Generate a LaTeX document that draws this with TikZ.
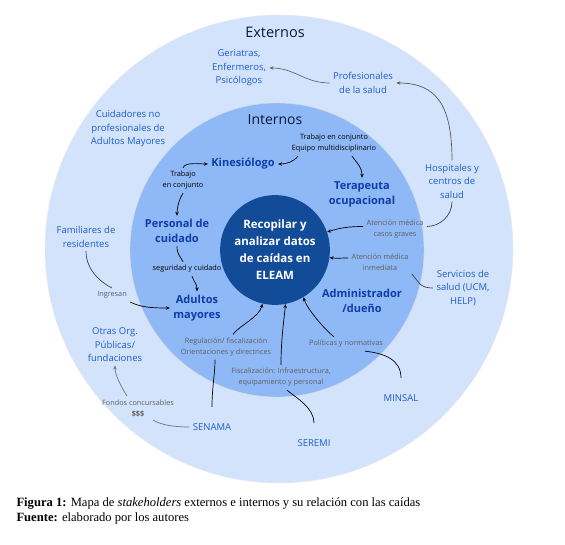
\documentclass[tikz,border=0pt]{standalone}
\usepackage{fontspec}
\setmainfont{Open Sans}
\newfontfamily\capfont{Liberation Serif}
\usepackage{tikz}
\usetikzlibrary{arrows.meta}

\definecolor{fondoext}{RGB}{211,227,252}
\definecolor{fondoint}{RGB}{143,184,246}
\definecolor{centro}{RGB}{18,76,153}
\definecolor{azulext}{RGB}{28,94,205}
\definecolor{azulint}{RGB}{14,60,168}
\definecolor{gristxt}{RGB}{95,95,95}
\definecolor{titulo}{RGB}{10,25,60}

\begin{document}
\begin{tikzpicture}[x=1pt, y=-1pt,
        externo/.style={align=center, text=azulext, font=\fontsize{9.5}{13.5}\selectfont},
        interno/.style={align=center, text=azulint, font=\bfseries\fontsize{11}{15}\selectfont},
        nota/.style={align=center, font=\fontsize{7.3}{11}\selectfont},
        notagris/.style={nota, text=gristxt},
        flecha/.style={-{Stealth[length=4pt, width=3.5pt]}, line width=0.7pt},
        linea/.style={line width=0.7pt, draw=black!75}]
        \useasboundingbox (0,0) rectangle (565,545);
        \fill[white] (0,0) rectangle (565,545);
        % anillos
        \node[circle, fill=fondoext, draw=black!8, minimum size=468pt] (externos) at (279,249) {};
        \node[circle, fill=fondoint, draw=black!15, minimum size=294pt] (internos) at (277,250) {};
        \node[circle, fill=centro, text=white, minimum size=94pt, align=center, font=\bfseries\fontsize{11.5}{17}\selectfont] (eleam) at (275,250) {Recopilar y\\analizar datos\\de caídas en\\ELEAM};
        \node[text=titulo, font=\fontsize{14.5}{16}\selectfont] (tit_ext) at (275,32) {Externos};
        \node[text=titulo, font=\fontsize{14}{16}\selectfont] (tit_int) at (275,120) {Internos};
        % externos
        \node[externo] (geriatras) at (239,68) {Geriatras,\\Enfermeros,\\Psicólogos};
        \node[externo] (profesionales) at (363,83) {Profesionales\\de la salud};
        \node[externo] (cuidadores) at (128,129) {Cuidadores no\\profesionales de\\Adultos Mayores};
        \node[externo] (hospitales) at (452,181) {Hospitales y\\centros de\\salud};
        \node[externo] (familiares) at (86,237) {Familiares de\\residentes};
        \node[externo] (servicios) at (463,288) {Servicios de\\salud (UCM,\\HELP)};
        \node[externo] (otras) at (115,345) {Otras Org.\\Públicas/\\fundaciones};
        \node[externo] (senama) at (212,427) {SENAMA};
        \node[externo] (seremi) at (314,443) {SEREMI};
        \node[externo] (minsal) at (401,398) {MINSAL};
        % internos
        \node[interno] (kine) at (243,164) {Kinesiólogo};
        \node[interno] (terapeuta) at (362,194) {Terapeuta\\ocupacional};
        \node[interno] (personal) at (177,231) {Personal de\\cuidado};
        \node[interno] (adultos) at (197,308) {Adultos\\mayores};
        \node[interno] (admin) at (362,301) {Administrador\\/dueño};
        % relaciones
        \node[nota] (equipo) at (334,143.5) {Trabajo en conjunto\\Equipo multidisciplinario};
        \node[nota] (trabajo) at (183,180.5) {Trabajo\\en conjunto};
        \node[nota] (seguridad) at (187,269) {seguridad y cuidado};
        \node[notagris] (ingresan) at (112,295) {Ingresan};
        \node[notagris] (graves) at (395,229.5) {Atención médica\\casos graves};
        \node[notagris] (inmediata) at (380,262) {Atención médica\\inmediata};
        \node[notagris] (regulacion) at (226,347) {Regulación/ fiscalización\\Orientaciones y directrices};
        \node[notagris] (politicas) at (346,344) {Políticas y normativas};
        \node[notagris] (fiscalizacion) at (281,377.5) {Fiscalización: Infraestructura,\\equipamiento y personal};
        \node[notagris] (fondos) at (138,408) {Fondos concursables\\\textbf{\$\$\$}};
        % conectores externos
        \draw[flecha, draw=black!60] (profesionales.west) .. controls +(-25,0) and +(25,0) .. (geriatras.east);
        \draw[flecha, draw=black!65] (hospitales.north) .. controls +(0,-55) and +(40,0) .. (profesionales.east);
        \draw[linea] (hospitales.south) .. controls +(0,15) and +(12,0) .. ([yshift=3pt]graves.east);
        \draw[flecha] ([yshift=3pt]graves.west) .. controls +(-15,0) and +(12,-4) .. (eleam.19);
        \draw[linea] (inmediata.south east) .. controls +(8,10) and +(-12,0) .. (servicios.west);
        \draw[flecha] ([yshift=4pt]inmediata.west) .. controls +(-10,0) and +(10,1) .. (eleam.-8);
        \draw[linea] (familiares.south) .. controls +(0,20) and +(-10,-5) .. (ingresan.north);
        \draw[flecha] (ingresan.south east) .. controls +(10,5) and +(-20,0) .. (adultos.west);
        % conectores internos
        \draw[flecha] (trabajo.north) .. controls +(2,-6) and +(-8,0) .. (kine.west);
        \draw[flecha] (trabajo.south) .. controls +(-4,6) and +(0,-8) .. (personal.north);
        \draw[flecha] ([xshift=-36pt]equipo.south) .. controls +(-5,6) and +(8,0) .. (kine.east);
        \draw[flecha] ([xshift=18pt]equipo.south) .. controls +(6,8) and +(0,-10) .. (terapeuta.north);
        \draw[line width=0.7pt] (personal.south) .. controls +(0,8) and +(-3,-6) .. ([xshift=-4pt]seguridad.north);
        \draw[flecha] ([xshift=5pt]seguridad.south) .. controls +(2,6) and +(0,-8) .. (adultos.north);
        % reguladores
        \draw[line width=0.7pt] ([yshift=13pt]senama.north) .. controls +(0,-20) and +(0,15) .. ([xshift=-11pt]regulacion.south);
        \draw[flecha] ([xshift=7pt]regulacion.north) .. controls +(8,-10) and +(-4,14) .. (eleam.-103);
        \draw[line width=0.7pt] ([yshift=13pt]seremi.north) .. controls +(0,-15) and +(10,8) .. ([xshift=6pt]fiscalizacion.south);
        \draw[flecha] (fiscalizacion.north) .. controls +(0,-25) and +(-2,20) .. (eleam.-79);
        \draw[line width=0.7pt] ([yshift=13pt]minsal.north) .. controls +(0,-18) and +(20,2) .. ([xshift=19pt]politicas.south);
        \draw[flecha] ([xshift=-12pt]politicas.north) .. controls +(-10,-8) and +(4,12) .. (eleam.-59);
        \draw[linea, draw=black!55] (senama.west) .. controls +(-15,0) and +(8,5) .. ([xshift=15pt]fondos.south);
        \draw[flecha, draw=black!55] ([xshift=-11pt]fondos.north) .. controls +(-5,-8) and +(0,10) .. (otras.south);
        % leyenda
        \node[anchor=west, align=left, font=\capfont\fontsize{12.6}{15}\selectfont] (leyenda) at (13,510.5) {\textbf{Figura 1:} Mapa de \textit{stakeholders} externos e internos y su relación con las caídas\\\textbf{Fuente:} elaborado por los autores};
    \end{tikzpicture}
\end{document}
